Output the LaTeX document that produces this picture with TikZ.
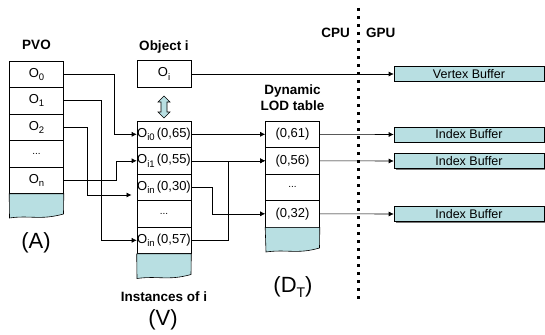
\documentclass[tikz,border=0pt]{standalone}
\usepackage{fontspec}
\setmainfont{Liberation Sans}
\usetikzlibrary{arrows.meta,calc}
\definecolor{teal1}{RGB}{184,223,226}
\definecolor{shad}{RGB}{120,120,120}
\newcommand{\sbs}[1]{\raisebox{-0.25em}{\fontsize{9.5}{10}\selectfont #1}}
\tikzset{
  cellbox/.style={draw, fill=white, minimum width=54pt, minimum height=26.5pt, inner sep=0pt, font=\fontsize{13}{15}\selectfont},
  bufbox/.style={draw, fill=teal1, minimum width=150pt, minimum height=15pt, inner sep=0pt, font=\fontsize{12.5}{14}\selectfont},
  lbl/.style={font=\fontsize{13.5}{16}\selectfont\bfseries, align=center},
  biglbl/.style={font=\fontsize{22}{24}\selectfont},
  arr/.style={-{Latex[length=5pt,width=5pt]}, line width=0.6pt},
  tabfill/.style={draw, fill=teal1, line width=0.6pt},
}
\begin{document}
\begin{tikzpicture}[x=1pt,y=-1pt, line width=0.6pt]
\useasboundingbox (0,0) rectangle (545,334);

% ---------- PVO column ----------
\node[lbl] (pvo) at (36.5,45) {PVO};
\node[cellbox] (p0) at (36.5,74.2) {O\sbs{0}};
\node[cellbox] (p1) at (36.5,100.7) {O\sbs{1}};
\node[cellbox] (p2) at (36.5,127.2) {O\sbs{2}};
\node[cellbox] (pd) at (36.5,153.7) {\fontsize{10}{12}\selectfont ...};
\node[cellbox] (pn) at (36.5,180.2) {O\sbs{n}};
\draw[tabfill] (p0.west |- pn.south) -- (9.5,218) .. controls (30,215) and (40,220.5) .. (63.5,214) -- (pn.south east) -- cycle;
\node[biglbl] (labA) at (36,243) {(A)};

% ---------- Object i ----------
\node[lbl] (objl) at (164,47) {Object i};
\node[cellbox] (obj) at (164,74) {O\sbs{i}};
\draw[fill=teal1, line width=0.6pt] (164,96) -- (170,102) -- (167,102) -- (167,112) -- (170,112) -- (164,118) -- (158,112) -- (161,112) -- (161,102) -- (158,102) -- cycle;

% ---------- V column ----------
\node[cellbox] (v0) at (164,134.3) {O\sbs{i0}\,(0,65)};
\node[cellbox] (v1) at (164,160.8) {O\sbs{i1}\,(0,55)};
\node[cellbox] (v2) at (164,187.3) {O\sbs{in}\,(0,30)};
\node[cellbox] (vd) at (164,213.8) {\fontsize{10}{12}\selectfont ...};
\node[cellbox] (v4) at (164,240.3) {O\sbs{in}\,(0,57)};
\draw[tabfill] (v0.west |- v4.south) -- (137,278.5) .. controls (158,275.5) and (168,281) .. (191,274.5) -- (v4.south east) -- cycle;
\node[lbl] (instl) at (164,297) {Instances of i};
\node[biglbl] (labV) at (163,320) {(V)};

% ---------- D column ----------
\node[lbl] (dynl) at (292.5,98) {Dynamic\\LOD table};
\node[cellbox] (d0) at (292.5,134.3) {(0,61)};
\node[cellbox] (d1) at (292.5,160.8) {(0,56)};
\node[cellbox] (dd) at (292.5,187.3) {\fontsize{10}{12}\selectfont ...};
\node[cellbox] (d3) at (292.5,213.8) {(0,32)};
\draw[tabfill] (d0.west |- d3.south) -- (266,252) .. controls (287,249) and (297,254.5) .. (319.5,248) -- (d3.south east) -- cycle;
\node[biglbl] (labD) at (293,287) {(D\sbs{\fontsize{14}{14}\selectfont T})};

% ---------- CPU / GPU ----------
\draw[line width=3pt, dash pattern=on 3pt off 5pt] (358,8) -- (358,302);
\node[lbl, anchor=east] (cpu) at (353.5,33) {CPU};
\node[lbl, anchor=west] (gpu) at (362.5,33) {GPU};

% ---------- buffers ----------
\foreach \nm/\yy/\tx in {bv/74/Vertex Buffer, b1/134.5/Index Buffer, b2/161/Index Buffer, b3/214/Index Buffer}{
  \fill[shad] (395.5,\yy-6.5) rectangle (545,\yy+8.5);
  \node[bufbox] (\nm) at (469,\yy) {\tx};
}

% ---------- connectors PVO -> V ----------
\coordinate (v2in) at (131.5,195);
\draw[arr] (p0.east) -- ++(50,0) |- (v0.west);
\draw[arr] (p1.east) -- ++(37,0) |- (v4.west);
\draw[arr] (p2.east) -- ++(23,0) |- (v2in);
\draw[arr] (pn.east) -- ++(52,0) |- (v1.west);

% ---------- connectors V -> D ----------
\draw[arr] (v0.east) -- (d0.west);
\draw[arr] (v1.east) -- (d1.west);
\draw[arr] (v4.east) -- ++(37,0) |- (d1.west);
\draw[arr] (v2.east) -- ++(21,0) |- (d3.west);

% ---------- connectors to buffers ----------
\draw[arr] (obj.east) -- (bv.west);
\draw[arr] (d0.east) -- (b1.west);
\draw[arr] (d1.east) -- (b2.west);
\draw[arr] (d3.east) -- (b3.west);
\end{tikzpicture}
\end{document}
